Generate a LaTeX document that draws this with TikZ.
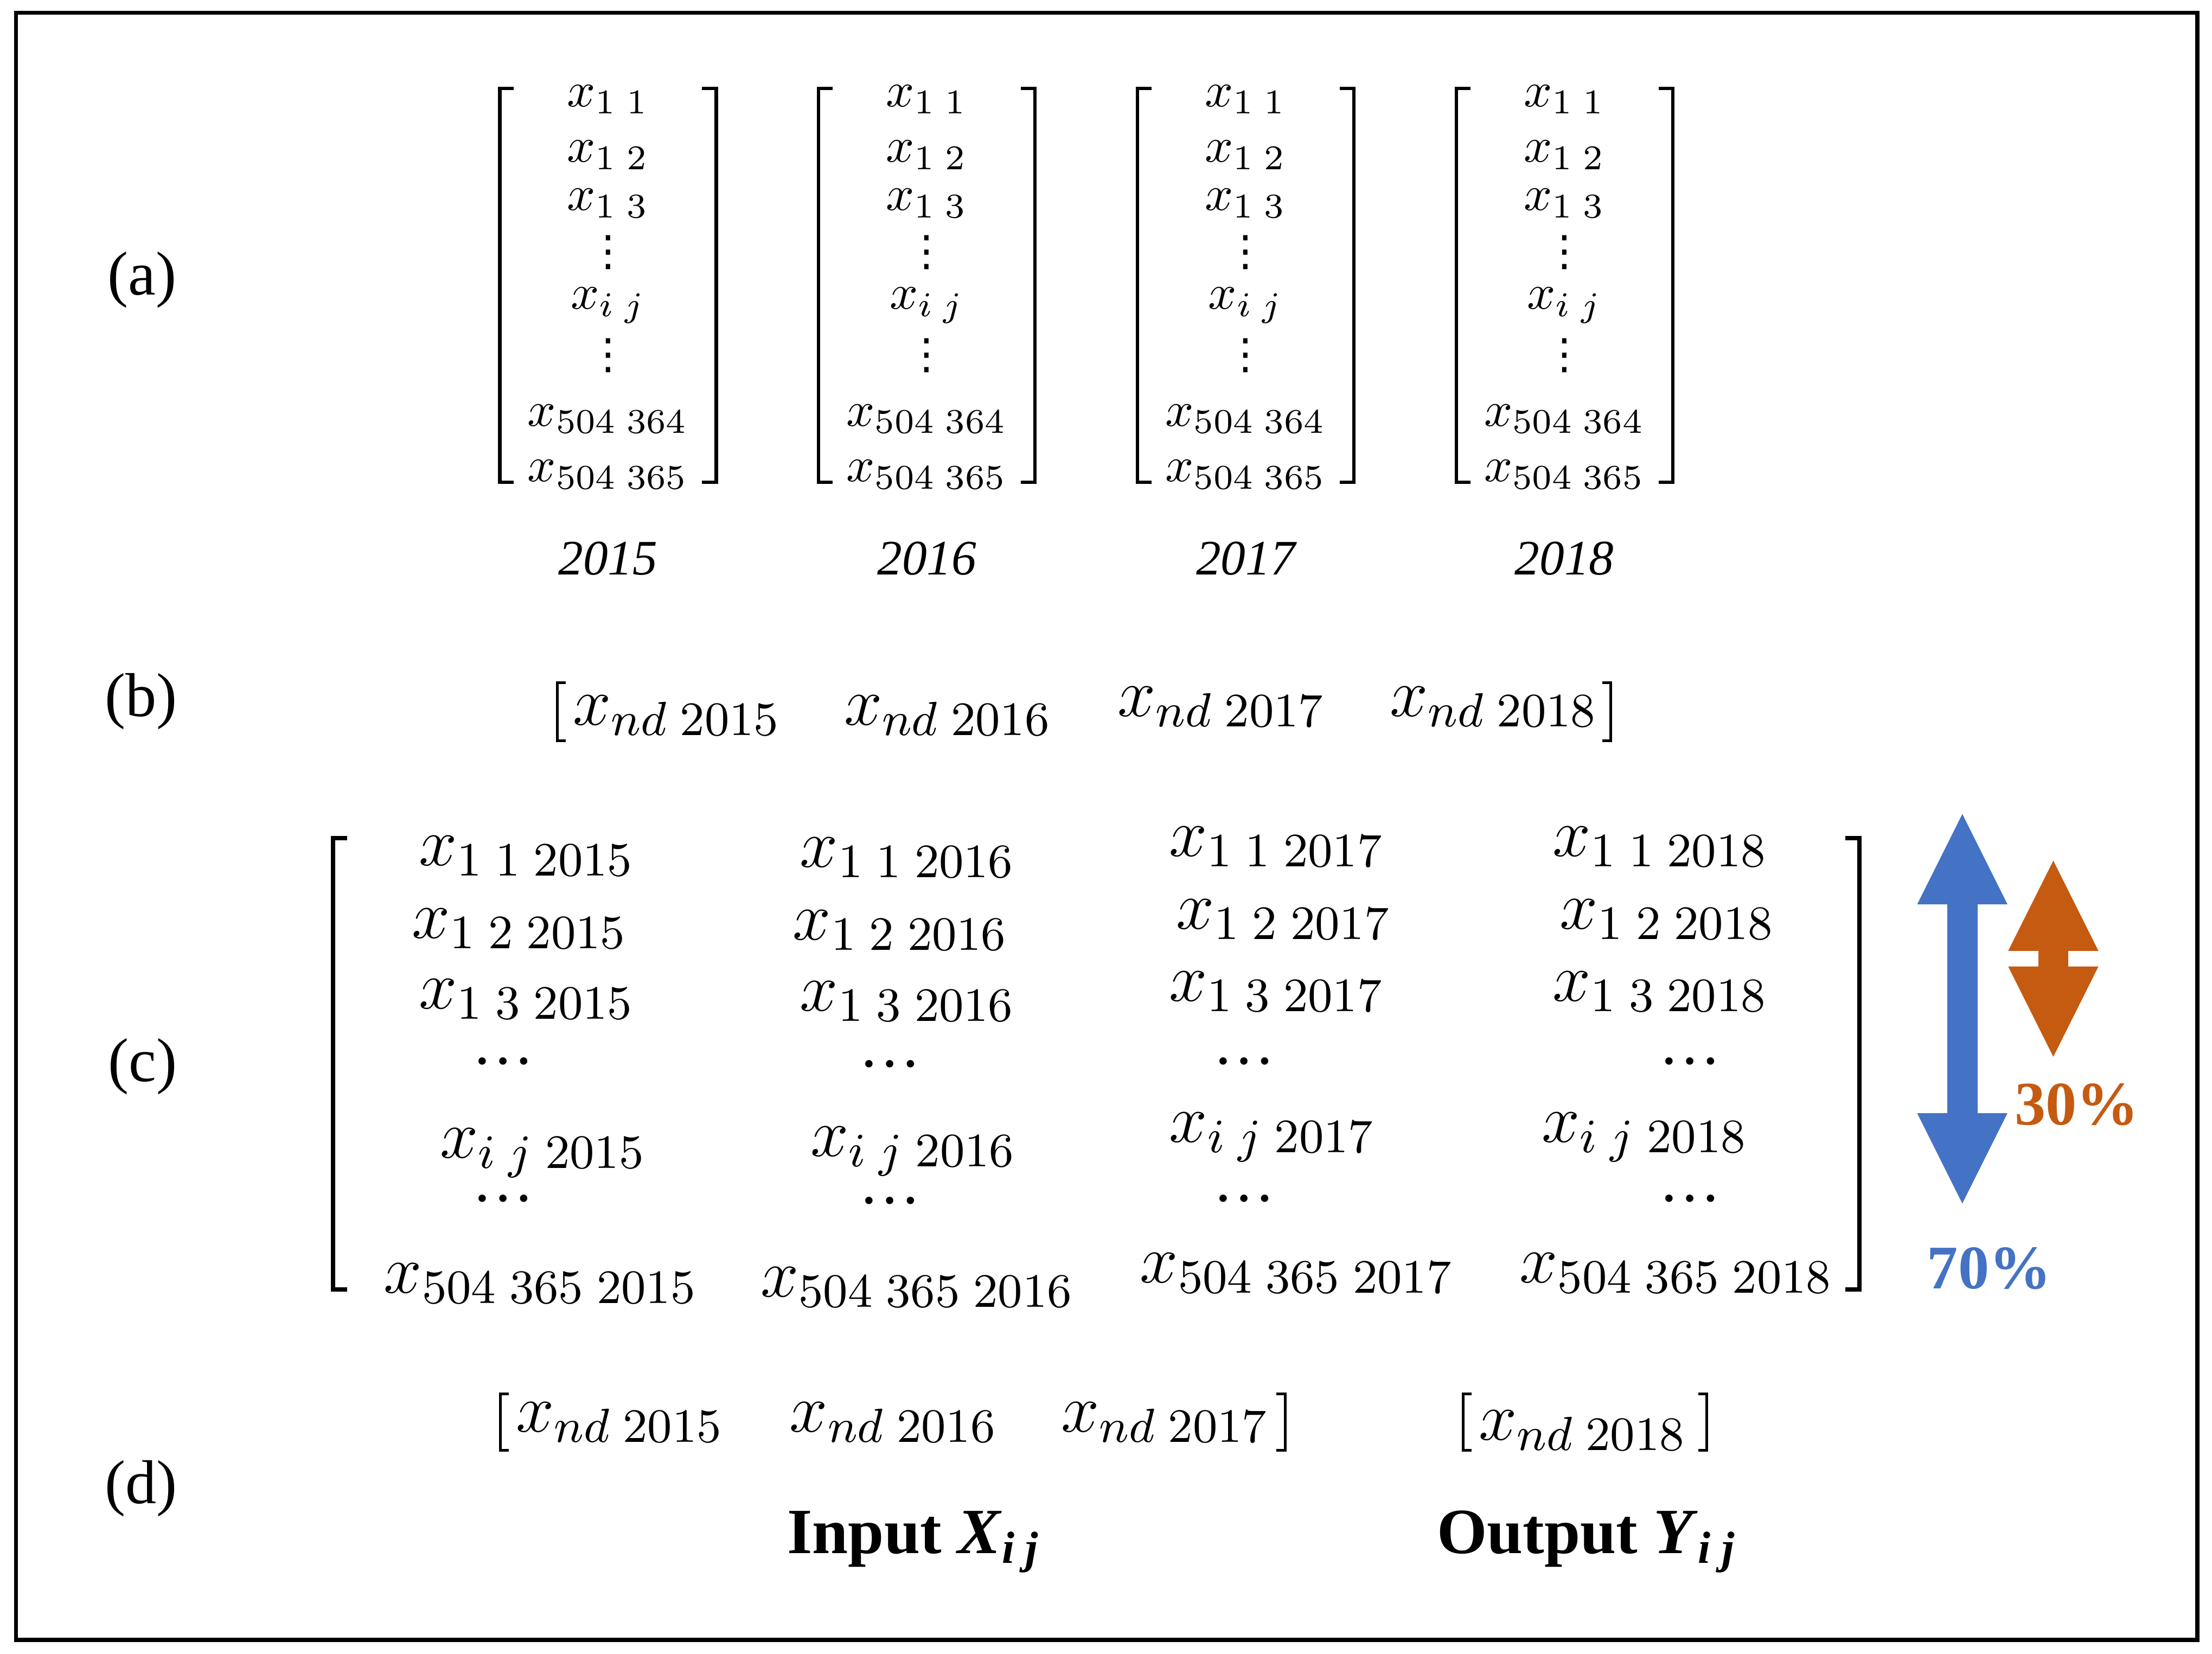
\RequirePackage{fix-cm}
\documentclass[tikz,border=0pt]{standalone}
\usepackage{amsmath}
\usepackage{fontspec}
\setmainfont{Liberation Serif}
\newfontfamily\dotsfont{DejaVu Sans}
\usetikzlibrary{matrix,positioning,arrows.meta}

\definecolor{splitblue}{HTML}{4472C4}
\definecolor{splitorange}{HTML}{C55A11}

\newcommand{\vdotsx}{\hbox{\dotsfont\fontsize{8.5}{10}\selectfont\raisebox{-1.5pt}{⋮}}}
\newcommand{\hdotsx}{\hbox{\fontsize{12.5}{14}\selectfont\raisebox{1.2pt}{…}}}

\tikzset{
colvec/.style={
  matrix of math nodes,
  inner sep=0pt,
  anchor=north,
  nodes={anchor=center, inner xsep=0pt, inner ysep=0.15pt,
    text height=6.3pt, text depth=3.07pt,
    text width=1.52cm, align=center,
    font=\fontsize{10}{12}\selectfont}
  },
bigcol/.style={
  matrix of math nodes,
  inner sep=0pt,
  anchor=north,
  nodes={anchor=center, inner sep=0pt,
    text height=6.2pt, text depth=2.34pt,
    text width=2.4cm, align=center,
    font=\fontsize{13.8}{16}\selectfont}
  }
}
\tikzset{
  rowent/.style={inner sep=0pt, text height=6.2pt, text depth=2.34pt,
    font=\fontsize{13.8}{16}\selectfont},
  brk/.style={line width=0.7pt},
  bigbrk/.style={line width=0.9pt},
  thinbrk/.style={line width=0.55pt},
  partlbl/.style={font=\fontsize{12.5}{15}\selectfont},
  yearlbl/.style={inner sep=0pt, font=\fontsize{10}{12}\selectfont\itshape},
  iolbl/.style={anchor=base, font=\fontsize{13}{15}\selectfont\bfseries},
  pctlbl/.style={font=\fontsize{12.5}{15}\selectfont\bfseries},
  splitarrow/.style={line width=0.214cm,
    {Triangle[width=0.64cm,length=0.64cm,line width=0pt]}-{Triangle[width=0.64cm,length=0.64cm,line width=0pt]}}
}

\begin{document}
\begin{tikzpicture}

\useasboundingbox (0,0) rectangle (15.68,-11.72);

\draw[line width=0.8pt] (0.113,-0.09) rectangle (15.576,-11.623);

\node[partlbl] (lbla) at (1.008,-1.986) {(a)};

\node[partlbl] (lblb) at (1.0,-4.97) {(b)};

\node[partlbl] (lblc) at (1.01,-7.56) {(c)};

\node[partlbl] (lbld) at (1.0,-10.55) {(d)};

\matrix[colvec] (col15) at (4.31,-0.52)
{
  x_{1\;1} \\[0.056cm]
  x_{1\;2} \\
  x_{1\;3} \\
  \vdotsx \\[0.02cm]
  x_{i\;j} \\[0.03cm]
  \vdotsx \\[0.12cm]
  x_{504\;364} \\[0.055cm]
  x_{504\;365} \\};

\matrix[colvec] (col16) at (6.57,-0.52)
{
  x_{1\;1} \\[0.056cm]
  x_{1\;2} \\
  x_{1\;3} \\
  \vdotsx \\[0.02cm]
  x_{i\;j} \\[0.03cm]
  \vdotsx \\[0.12cm]
  x_{504\;364} \\[0.055cm]
  x_{504\;365} \\};

\matrix[colvec] (col17) at (8.83,-0.52)
{
  x_{1\;1} \\[0.056cm]
  x_{1\;2} \\
  x_{1\;3} \\
  \vdotsx \\[0.02cm]
  x_{i\;j} \\[0.03cm]
  \vdotsx \\[0.12cm]
  x_{504\;364} \\[0.055cm]
  x_{504\;365} \\};

\matrix[colvec] (col18) at (11.09,-0.52)
{
  x_{1\;1} \\[0.056cm]
  x_{1\;2} \\
  x_{1\;3} \\
  \vdotsx \\[0.02cm]
  x_{i\;j} \\[0.03cm]
  \vdotsx \\[0.12cm]
  x_{504\;364} \\[0.055cm]
  x_{504\;365} \\};

\draw[brk] ([shift={(0.1,-0.106)}]col15.north west) -| ([yshift=0.116cm]col15.south west) -- ++(0.1,0);
\draw[brk] ([shift={(-0.1,-0.106)}]col15.north east) -| ([yshift=0.116cm]col15.south east) -- ++(-0.1,0);
\draw[brk] ([shift={(0.1,-0.106)}]col16.north west) -| ([yshift=0.116cm]col16.south west) -- ++(0.1,0);
\draw[brk] ([shift={(-0.1,-0.106)}]col16.north east) -| ([yshift=0.116cm]col16.south east) -- ++(-0.1,0);
\draw[brk] ([shift={(0.1,-0.106)}]col17.north west) -| ([yshift=0.116cm]col17.south west) -- ++(0.1,0);
\draw[brk] ([shift={(-0.1,-0.106)}]col17.north east) -| ([yshift=0.116cm]col17.south east) -- ++(-0.1,0);
\draw[brk] ([shift={(0.1,-0.106)}]col18.north west) -| ([yshift=0.116cm]col18.south west) -- ++(0.1,0);
\draw[brk] ([shift={(-0.1,-0.106)}]col18.north east) -| ([yshift=0.116cm]col18.south east) -- ++(-0.1,0);

\node[yearlbl, below=0.30cm of col15] (yr15) {2015};

\node[yearlbl, below=0.30cm of col16] (yr16) {2016};

\node[yearlbl, below=0.30cm of col17] (yr17) {2017};

\node[yearlbl, below=0.30cm of col18] (yr18) {2018};

\node[rowent] (all15) at (4.80,-5.07) {$x_{nd\;2015}$};

\node[rowent] (all16) at (6.72,-5.07) {$x_{nd\;2016}$};

\node[rowent] (all17) at (8.66,-5.01) {$x_{nd\;2017}$};

\node[rowent] (all18) at (10.59,-5.01) {$x_{nd\;2018}$};

\draw[thinbrk] ([shift={(-0.045,0.23)}]all15.west) -- ++(-0.06,0) -- ++(0,-0.41) -- ++(0.06,0);
\draw[thinbrk] ([shift={(0.025,0.17)}]all18.east) -- ++(0.06,0) -- ++(0,-0.41) -- ++(-0.06,0);

\matrix[bigcol] (stack15) at (3.7075,-5.91)
{
  x_{1\;1\;2015} \\[0.215cm]
  |[xshift=-0.05cm]| x_{1\;2\;2015} \\[0.201cm]
  x_{1\;3\;2015} \\[0.134cm]
  |[xshift=-0.17cm]| \hdotsx \\[0.32cm]
  |[xshift=0.115cm]| x_{i\;j\;2015} \\[0.05cm]
  |[xshift=-0.17cm]| \hdotsx \\[0.31cm]
  |[xshift=0.10cm]| x_{504\;365\;2015} \\};

\matrix[bigcol] (stack16) at (6.4075,-5.92)
{
  x_{1\;1\;2016} \\[0.215cm]
  |[xshift=-0.05cm]| x_{1\;2\;2016} \\[0.205cm]
  x_{1\;3\;2016} \\[0.137cm]
  |[xshift=-0.125cm]| \hdotsx \\[0.293cm]
  |[xshift=0.04cm]| x_{i\;j\;2016} \\[0.076cm]
  |[xshift=-0.125cm]| \hdotsx \\[0.319cm]
  |[xshift=0.07cm]| x_{504\;365\;2016} \\};

\matrix[bigcol] (stack17) at (9.0075,-5.845)
{
  x_{1\;1\;2017} \\[0.215cm]
  |[xshift=0.05cm]| x_{1\;2\;2017} \\[0.21cm]
  x_{1\;3\;2017} \\[0.19cm]
  |[xshift=-0.23cm]| \hdotsx \\[0.21cm]
  |[xshift=-0.03cm]| x_{i\;j\;2017} \\[0.16cm]
  |[xshift=-0.23cm]| \hdotsx \\[0.235cm]
  |[xshift=0.145cm]| x_{504\;365\;2017} \\};

\matrix[bigcol] (stack18) at (11.82,-5.845)
{
  x_{1\;1\;2018} \\[0.215cm]
  |[xshift=0.05cm]| x_{1\;2\;2018} \\[0.21cm]
  x_{1\;3\;2018} \\[0.19cm]
  |[xshift=0.21cm]| \hdotsx \\[0.21cm]
  |[xshift=-0.11cm]| x_{i\;j\;2018} \\[0.16cm]
  |[xshift=0.21cm]| \hdotsx \\[0.235cm]
  |[xshift=0.115cm]| x_{504\;365\;2018} \\};

\draw[bigbrk] (2.46,-5.94) -- (2.36,-5.94) -- (2.36,-9.14) -- (2.46,-9.14);
\draw[bigbrk] (13.08,-5.94) -- (13.18,-5.94) -- (13.18,-9.14) -- (13.08,-9.14);

\coordinate (bluetop) at (13.91,-5.77);
\coordinate (bluebot) at (13.91,-8.53);
\coordinate (orangetop) at (14.555,-6.10);
\coordinate (orangebot) at (14.555,-7.49);

\draw[splitarrow, splitblue] (bluetop) -- (bluebot);

\draw[splitarrow, splitorange] (orangetop) -- (orangebot);

\node[pctlbl, text=splitorange] (pct30) at (14.72,-7.83) {30\%};

\node[pctlbl, text=splitblue] (pct70) at (14.10,-8.99) {70\%};

\node[rowent] (in15) at (4.395,-10.08) {$x_{nd\;2015}$};

\node[rowent] (in16) at (6.335,-10.08) {$x_{nd\;2016}$};

\node[rowent] (in17) at (8.26,-10.08) {$x_{nd\;2017}$};

\node[rowent] (out18) at (11.22,-10.14) {$x_{nd\;2018}$};

\draw[thinbrk] ([shift={(-0.045,0.20)}]in15.west) -- ++(-0.06,0) -- ++(0,-0.40) -- ++(0.06,0);
\draw[thinbrk] ([shift={(0.045,0.20)}]in17.east) -- ++(0.06,0) -- ++(0,-0.40) -- ++(-0.06,0);
\draw[thinbrk] ([shift={(-0.045,0.26)}]out18.west) -- ++(-0.06,0) -- ++(0,-0.40) -- ++(0.06,0);
\draw[thinbrk] ([shift={(0.075,0.26)}]out18.east) -- ++(0.06,0) -- ++(0,-0.40) -- ++(-0.06,0);

\node[iolbl] (ioin) at (6.48,-11.01) {Input \textit{X}\textsubscript{\textit{i j}}};

\node[iolbl] (ioout) at (11.25,-11.01) {Output \textit{Y}\textsubscript{\textit{i j}}};

\end{tikzpicture}
\end{document}
